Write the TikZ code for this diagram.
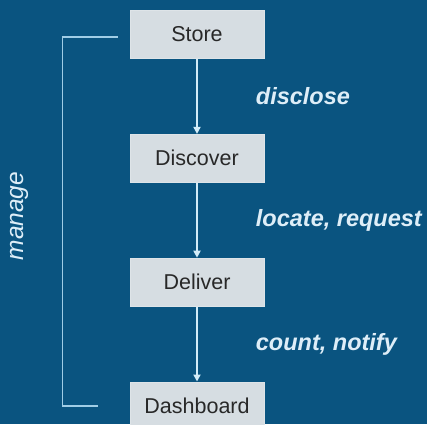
\documentclass[tikz,border=0pt]{standalone}
\usepackage{fontspec}
\setmainfont{Liberation Sans}
\usepackage{tikz}
\usetikzlibrary{arrows.meta,positioning}

\definecolor{bgblue}{RGB}{10,84,128}
\definecolor{boxgray}{RGB}{214,221,226}
\definecolor{boxtext}{RGB}{40,40,40}
\definecolor{linelight}{RGB}{210,236,248}
\definecolor{bracketblue}{RGB}{160,205,230}
\definecolor{labeltext}{RGB}{222,238,248}

\begin{document}
\begin{tikzpicture}[
  font=\fontsize{21.5pt}{24pt}\selectfont,
  box/.style={draw=boxgray!80!white, fill=boxgray, text=boxtext, minimum width=134pt,
              minimum height=48pt, inner sep=0pt, line width=0.8pt},
  arrow/.style={-{Triangle[length=7pt, width=7pt]}, line width=1.8pt, draw=linelight},
  verb/.style={text=labeltext, inner sep=0pt,
               font=\fontsize{23.5pt}{26pt}\selectfont\bfseries\itshape},
  bracket/.style={draw=bracketblue, line width=1.3pt},
  node distance=75pt
]
\fill[bgblue] (0,0) rectangle (427pt,-424pt);
\useasboundingbox (0,0) rectangle (427pt,-424pt);

\node[box] (store) at (197pt,-34.5pt) {Store};
\node[box, below=of store] (discover) {Discover};
\node[box, below=of discover] (deliver) {Deliver};
\node[box, below=of deliver] (dash) {Dashboard};

\draw[arrow] (store) -- node[verb, right=58pt] {disclose} (discover);
\draw[arrow] (discover) -- node[verb, right=58pt] {locate, request} (deliver);
\draw[arrow] (deliver) -- node[verb, right=58pt] {count, notify} (dash);

% manage bracket on the left
\coordinate (mtop) at ([xshift=-12pt, yshift=-2.5pt]store.west);
\coordinate (mbot) at ([xshift=-32pt]dash.west);
\draw[bracket] (mtop) -- ++(-55pt,0) |- (mbot);
\node[rotate=90, text=labeltext, font=\fontsize{24.5pt}{26pt}\selectfont\itshape]
  (manage) at (19pt,-216pt) {manage};
\end{tikzpicture}
\end{document}
